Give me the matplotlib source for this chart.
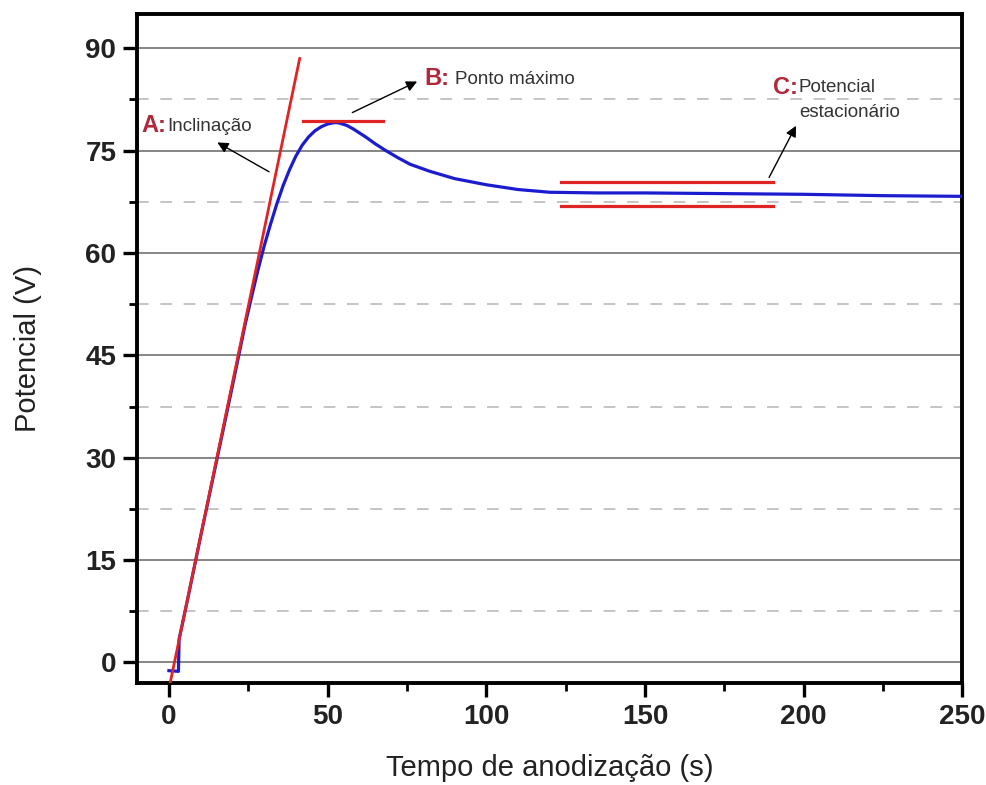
import matplotlib
matplotlib.use("Agg")
import matplotlib.pyplot as plt
from matplotlib.ticker import MultipleLocator

plt.rcParams['font.family'] = ['Liberation Sans', 'DejaVu Sans']

### Data
t = [0, 3, 3.2, 6, 10, 15, 20, 24, 26, 28, 30, 32, 34, 36, 38, 40, 42, 44,
     46, 48, 50, 52, 53, 54, 56, 58, 60, 62, 65, 68, 72, 76, 82, 90, 100,
     110, 120, 135, 150, 175, 200, 225, 250]
v = [-1.2, -1.3, 3.4, 9.5, 18.5, 29.5, 40.5, 49.5, 53.5, 57.4, 61, 64.2,
     67.2, 69.9, 72.2, 74.2, 75.8, 77, 77.9, 78.5, 78.9, 79.1, 79.1, 79.0,
     78.7, 78.2, 77.6, 77, 76.0, 75.1, 74.0, 73.0, 72.0, 70.9, 70, 69.3,
     68.9, 68.8, 68.8, 68.7, 68.6, 68.4, 68.3]

# tangent (slope) line
tan_x = [0.3, 41.2]
tan_y = [-3.2, 88.5]
# max point line
max_x = [42.2, 67.4]
max_y = 79.3
# steady state band
ss_x = [123.6, 190.3]
ss_hi = 70.4
ss_lo = 66.9

fig = plt.figure(figsize=(9.87, 7.85), dpi=100)
ax = fig.add_axes([0.139, 0.130, 0.836, 0.852])

blue = "#1c1ccf"
red = "#e02424"
dark_red = "#b0283a"

ax.plot(t, v, color=blue, lw=2.3, zorder=3)
ax.plot(tan_x, tan_y, color=red, lw=2.0, zorder=4)
ax.plot(max_x, [max_y, max_y], color=red, lw=2.3, zorder=4)
ax.plot(ss_x, [ss_hi, ss_hi], color=red, lw=2.3, zorder=4)
ax.plot(ss_x, [ss_lo, ss_lo], color=red, lw=2.3, zorder=4)

ax.set_xlim(-10, 250)
ax.set_ylim(-3, 95)
ax.xaxis.set_major_locator(MultipleLocator(50))
ax.xaxis.set_minor_locator(MultipleLocator(25))
ax.yaxis.set_major_locator(MultipleLocator(15))
ax.yaxis.set_minor_locator(MultipleLocator(7.5))

ax.grid(which="major", axis="y", color="#858585", lw=1.4, ls="-")
ax.grid(which="minor", axis="y", color="#c4c4c4", lw=1.4, ls=(0, (6, 6)))
ax.set_axisbelow(True)

for s in ax.spines.values():
    s.set_linewidth(2.8)
ax.tick_params(which="major", direction="out", length=10, width=2.4,
               labelsize=20, pad=5, labelcolor="#222")
ax.tick_params(which="minor", direction="out", length=6, width=2.0)
for lab in ax.get_xticklabels() + ax.get_yticklabels():
    lab.set_fontweight("bold")

ax.set_xlabel("Tempo de anodização (s)", fontsize=21, color="#222")
ax.set_ylabel("Potencial (V)", fontsize=21, color="#222")
ax.xaxis.set_label_coords(0.5, -0.106)
ax.yaxis.set_label_coords(-0.115, 0.5)

arrow = dict(arrowstyle="-|>", color="black", lw=1.0, mutation_scale=16)

# A
ax.text(-8.8, 78.7, "A:", color=dark_red, fontsize=17, fontweight="bold",
        va="center")
ax.text(-0.5, 78.6, "Inclinação", color="#333", fontsize=13.5, va="center")
ax.annotate("", xy=(14.5, 76.4), xytext=(32.3, 71.7), arrowprops=arrow)

# B
ax.text(80.5, 85.6, "B:", color=dark_red, fontsize=17, fontweight="bold",
        va="center")
ax.text(90, 85.4, "Ponto máximo", color="#333", fontsize=13.5, va="center")
ax.annotate("", xy=(79, 85.3), xytext=(57, 80.4), arrowprops=arrow)

# C
ax.text(190.5, 84.3, "C:", color=dark_red, fontsize=17, fontweight="bold",
        va="center")
ax.text(198.5, 84.3, "Potencial", color="#333", fontsize=13.5, va="center")
ax.text(198.5, 80.6, "estacionário", color="#333", fontsize=13.5,
        va="center")
ax.annotate("", xy=(198, 79), xytext=(188.7, 70.7), arrowprops=arrow)

fig.savefig("out.png", dpi=100)
